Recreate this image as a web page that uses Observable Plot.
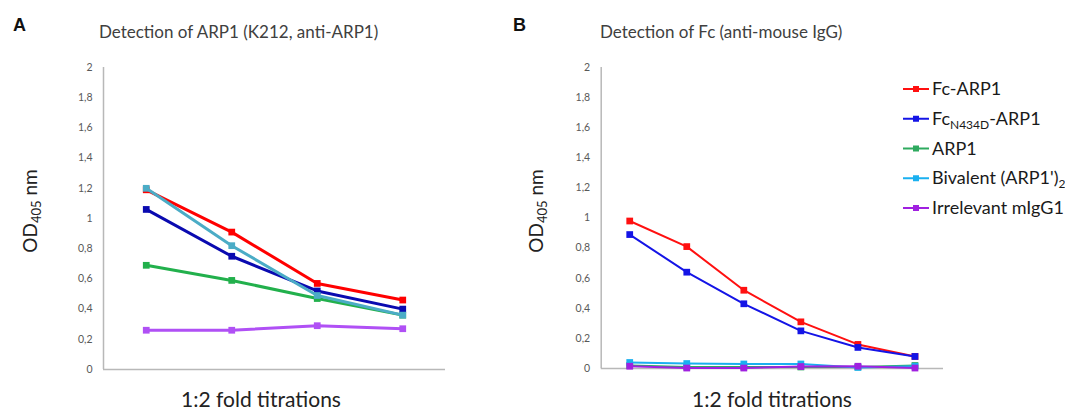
<!DOCTYPE html>
<html><head><meta charset="utf-8">
<script src="https://cdn.jsdelivr.net/npm/d3@7"></script>
<script src="https://cdn.jsdelivr.net/npm/@observablehq/plot@0.6"></script>
<style>
body{margin:0;background:#fff;}
#wrap{position:relative;width:1065px;height:411px;overflow:hidden;background:#fff;}
#wrap > svg{position:absolute;top:0;}
</style></head><body><div id="wrap"></div>
<script>
// ---- data ----
const titrationsA = [1, 2, 3, 4];
const titrationsB = [1, 2, 3, 4, 5, 6];
const seriesNames = ["Fc-ARP1", "FcN434D-ARP1", "ARP1", "Bivalent (ARP1')2", "Irrelevant mIgG1"];
const aFcARP1     = [1.19, 0.91, 0.57, 0.46];
const aFcN434D    = [1.06, 0.75, 0.52, 0.40];
const aARP1       = [0.69, 0.59, 0.47, 0.36];
const aBivalent   = [1.20, 0.82, 0.49, 0.36];
const aIrrelevant = [0.26, 0.26, 0.29, 0.27];
const bFcARP1     = [0.98, 0.81, 0.52, 0.31, 0.16, 0.08];
const bFcN434D    = [0.89, 0.64, 0.43, 0.25, 0.14, 0.08];
const bARP1       = [0.02, 0.01, 0.01, 0.01, 0.01, 0.02];
const bBivalent   = [0.04, 0.033, 0.03, 0.03, 0.007, 0.015];
const bIrrelevant = [0.015, 0.003, 0.003, 0.013, 0.015, 0.003];
const yTicks = [0, 0.2, 0.4, 0.6, 0.8, 1, 1.2, 1.4, 1.6, 1.8, 2];

const colorsA = {"Fc-ARP1":"#ff0000","FcN434D-ARP1":"#0a0ab0","ARP1":"#22b04c","Bivalent (ARP1')2":"#4bacc6","Irrelevant mIgG1":"#b050f5"};
const colorsB = {"Fc-ARP1":"#ff1010","FcN434D-ARP1":"#1414e6","ARP1":"#2eaa5f","Bivalent (ARP1')2":"#1ab0f0","Irrelevant mIgG1":"#a020e0"};

function tidy(xs, arrs) {
  const out = [];
  arrs.forEach(([name, vals]) => vals.forEach((v, i) => out.push({series: name, t: xs[i], v})));
  return out;
}
const dataA = tidy(titrationsA, [["Irrelevant mIgG1", aIrrelevant], ["ARP1", aARP1], ["Fc-ARP1", aFcARP1], ["FcN434D-ARP1", aFcN434D], ["Bivalent (ARP1')2", aBivalent]]);
const dataB = tidy(titrationsB, [["Fc-ARP1", bFcARP1], ["FcN434D-ARP1", bFcN434D], ["ARP1", bARP1], ["Bivalent (ARP1')2", bBivalent], ["Irrelevant mIgG1", bIrrelevant]]);

const fmt = d => String(+d.toFixed(1)).replace(".", ",");
const FONT = "Lato, 'Open Sans', sans-serif";

function panel(data, xs, colors, opts) {
  const order = [...new Set(data.map(d => d.series))];
  const marks = [
    Plot.ruleY([0], {stroke: "#b8b8b8", strokeWidth: 1.5}),
    Plot.ruleX([0.5], {stroke: "#b8b8b8", strokeWidth: 1.5}),
    Plot.axisY({ticks: yTicks, tickSize: 0, tickPadding: 11, tickFormat: fmt, fontSize: 10.5, fill: "#595959", label: null}),
  ];
  for (const s of order) {
    const sub = data.filter(d => d.series === s);
    marks.push(Plot.line(sub, {x: "t", y: "v", stroke: colors[s], strokeWidth: opts.sw}));
    marks.push(Plot.dot(sub, {x: "t", y: "v", symbol: "square", r: opts.r, fill: colors[s], stroke: "none"}));
  }
  return Plot.plot({
    width: opts.width, height: 411,
    marginLeft: opts.ml, marginRight: opts.mr, marginTop: 67, marginBottom: opts.mb,
    style: {fontFamily: FONT, background: "transparent"},
    x: {domain: [0.5, xs.length + 0.5], axis: null},
    y: {domain: [0, 2], axis: null},
    marks
  });
}

const wrap = document.getElementById("wrap");
const pA = panel(dataA, titrationsA, colorsA, {width: 450, ml: 103, mr: 5, mb: 42, sw: 3, r: 3.8});
pA.style.left = "0px";
wrap.appendChild(pA);
const pB = panel(dataB, titrationsB, colorsB, {width: 450, ml: 100.7, mr: 7, mb: 43, sw: 2, r: 3.8});
pB.style.left = "500px";
wrap.appendChild(pB);

// ---- text overlay ----
const svg = d3.select(wrap).append("svg").attr("width", 1065).attr("height", 411)
  .style("left", "0px").style("font-family", FONT);

[["A", 13], ["B", 513]].forEach(([t, x]) =>
  svg.append("text").attr("x", x).attr("y", 31).attr("font-family", "'Liberation Sans', Arial, sans-serif")
    .attr("font-weight", "bold").attr("font-size", 18).attr("fill", "#111").text(t));

[["Detection of ARP1 (K212, anti-ARP1)", 99], ["Detection of Fc (anti-mouse IgG)", 600]].forEach(([t, x]) =>
  svg.append("text").attr("x", x).attr("y", 38).attr("font-size", 17).attr("fill", "#404040").text(t));

[261, 772].forEach(x =>
  svg.append("text").attr("x", x).attr("y", 407).attr("text-anchor", "middle").attr("font-size", 21).attr("fill", "#222").text("1:2 fold titrations"));

[30, 536].forEach(x => {
  const t = svg.append("text").attr("transform", `translate(${x + 7},211) rotate(-90)`).attr("text-anchor", "middle")
    .attr("font-size", 19).attr("fill", "#222");
  t.append("tspan").text("OD");
  t.append("tspan").attr("font-size", 13).attr("dy", 4).text("405");
  t.append("tspan").attr("dy", -4).text(" nm");
});

// legend
const legendParts = {
  "Fc-ARP1": [["Fc-ARP1", 0]],
  "FcN434D-ARP1": [["Fc", 0], ["N434D", 1], ["-ARP1", -1]],
  "ARP1": [["ARP1", 0]],
  "Bivalent (ARP1')2": [["Bivalent (ARP1')", 0], ["2", 1]],
  "Irrelevant mIgG1": [["Irrelevant mIgG1", 0]]
};
seriesNames.forEach((s, i) => {
  const cy = 89 + i * 29.75;
  const g = svg.append("g");
  g.append("line").attr("x1", 903).attr("x2", 929).attr("y1", cy).attr("y2", cy).attr("stroke", colorsB[s]).attr("stroke-width", 2);
  g.append("rect").attr("x", 913).attr("y", cy - 3).attr("width", 6).attr("height", 6).attr("fill", colorsB[s]);
  const t = g.append("text").attr("x", 932).attr("y", cy + 6).attr("font-size", 18).attr("fill", "#1a1a1a");
  legendParts[s].forEach(([txt, sub]) => {
    const sp = t.append("tspan").text(txt);
    if (sub === 1) sp.attr("font-size", 12).attr("dy", 4);
    if (sub === -1) sp.attr("dy", -4);
  });
});
</script>
</body></html>
